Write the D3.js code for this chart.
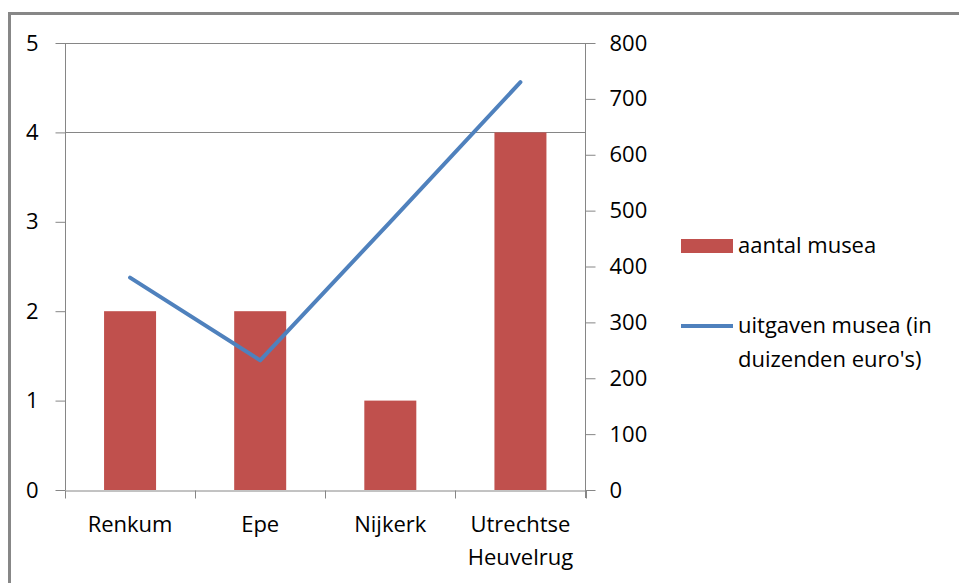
<!DOCTYPE html>
<html>
<head>
<meta charset="utf-8">
<script src="https://cdn.jsdelivr.net/npm/d3@7"></script>
<style>
  body { margin: 0; background: #fff; }
  svg text { font-family: "Open Sans", sans-serif; fill: #000; }
</style>
</head>
<body>
<svg id="chart" width="959" height="583"></svg>
<script>
const categories = ['Renkum', 'Epe', 'Nijkerk', 'Utrechtse\nHeuvelrug'];
const aantalMusea = [2, 2, 1, 4];
const uitgavenMusea = [380, 232, 480, 730];
const leftTicks = [0, 1, 2, 3, 4, 5];
const rightTicks = [0, 100, 200, 300, 400, 500, 600, 700, 800];
const gridTicks = [4, 5];

const svg = d3.select('#chart');
const axisColor = '#868686';

const plotLeft = 65, plotRight = 585.5, plotTop = 43, plotBottom = 490;

// outer frame (only top and left edges show)
svg.append('line').attr('x1', 8.5).attr('x2', 959).attr('y1', 13.5).attr('y2', 13.5)
  .attr('stroke', '#878787').attr('stroke-width', 3);
svg.append('line').attr('x1', 9.5).attr('x2', 9.5).attr('y1', 12).attr('y2', 583)
  .attr('stroke', '#878787').attr('stroke-width', 3);

const x = d3.scaleBand().domain(categories).range([plotLeft, plotRight]).paddingInner(0).paddingOuter(0);
const yL = d3.scaleLinear().domain([0, 5]).range([plotBottom, plotTop]);
const yR = d3.scaleLinear().domain([0, 800]).range([plotBottom, plotTop]);

// gridlines
svg.append('g').selectAll('line').data(gridTicks).join('line')
  .attr('x1', plotLeft).attr('x2', plotRight)
  .attr('y1', d => Math.round(yL(d)) + 0.5).attr('y2', d => Math.round(yL(d)) + 0.5)
  .attr('stroke', axisColor);

// bars
const barW = 52;
svg.append('g').selectAll('rect').data(aantalMusea).join('rect')
  .attr('x', (d, i) => x(categories[i]) + x.bandwidth() / 2 - barW / 2)
  .attr('width', barW)
  .attr('y', d => yL(d))
  .attr('height', d => plotBottom - yL(d))
  .attr('fill', '#C0504D');

// left axis
const gL = svg.append('g').attr('transform', `translate(${plotLeft + 0.5},0)`)
  .call(d3.axisLeft(yL).tickValues(leftTicks).tickSize(10).tickPadding(17).tickFormat(d3.format('d')));
// right axis
const gR = svg.append('g').attr('transform', `translate(${plotRight},0)`)
  .call(d3.axisRight(yR).tickValues(rightTicks).tickSize(10).tickPadding(14).tickFormat(d3.format('d')));
// bottom axis
const gB = svg.append('g').attr('transform', `translate(0,${plotBottom + 0.5})`)
  .call(d3.axisBottom(x).tickValues([]).tickSizeOuter(0));
gB.selectAll('.cat-tick').data(d3.range(categories.length + 1)).join('line')
  .attr('class', 'cat-tick')
  .attr('x1', i => Math.round(plotLeft + i * x.step()) + 0.5)
  .attr('x2', i => Math.round(plotLeft + i * x.step()) + 0.5)
  .attr('y1', 0).attr('y2', 8).attr('stroke', axisColor);

[gL, gR, gB].forEach(g => {
  g.select('.domain').attr('stroke', axisColor);
  g.selectAll('.tick line').attr('stroke', axisColor);
  g.selectAll('.tick text').attr('font-size', 22).attr('font-family', '"Open Sans", sans-serif').attr('fill', '#000');
});
gL.select('.domain').attr('d', `M0,${plotTop}V${plotBottom}`);
gR.select('.domain').attr('d', `M0,${plotTop}V${plotBottom + 8}`);

// category labels
const catG = svg.append('g');
categories.forEach((c, i) => {
  const lines = c.split('\n');
  const t = catG.append('text')
    .attr('x', x(c) + x.bandwidth() / 2)
    .attr('y', 532)
    .attr('text-anchor', 'middle')
    .attr('font-size', 22);
  lines.forEach((ln, j) => {
    t.append('tspan').attr('x', x(c) + x.bandwidth() / 2).attr('dy', j === 0 ? 0 : 33).text(ln);
  });
});

// line series
const line = d3.line()
  .x((d, i) => x(categories[i]) + x.bandwidth() / 2)
  .y(d => yR(d));
svg.append('path').datum(uitgavenMusea)
  .attr('d', line)
  .attr('fill', 'none')
  .attr('stroke', '#4F81BD')
  .attr('stroke-width', 4)
  .attr('stroke-linecap', 'round')
  .attr('stroke-linejoin', 'round');

// legend
const lg = svg.append('g');
lg.append('rect').attr('x', 681).attr('y', 239).attr('width', 52).attr('height', 14).attr('fill', '#C0504D');
lg.append('text').attr('x', 738).attr('y', 253).attr('font-size', 22).text('aantal musea');
lg.append('line').attr('x1', 681).attr('x2', 733).attr('y1', 326).attr('y2', 326)
  .attr('stroke', '#4F81BD').attr('stroke-width', 4);
const lt = lg.append('text').attr('x', 738).attr('y', 333).attr('font-size', 22);
lt.append('tspan').attr('x', 738).attr('dy', 0).text('uitgaven musea (in');
lt.append('tspan').attr('x', 738).attr('dy', 34).text("duizenden euro's)");
</script>
</body>
</html>
